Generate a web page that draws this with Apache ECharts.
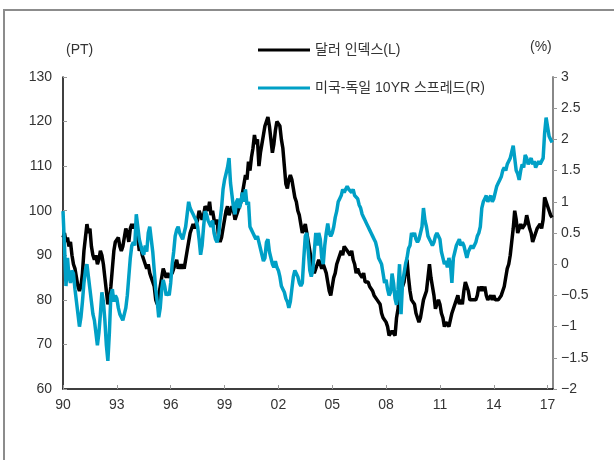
<!DOCTYPE html>
<html>
<head>
<meta charset="utf-8">
<script src="https://cdn.jsdelivr.net/npm/echarts@6/dist/echarts.min.js"></script>
<style>
  html, body { margin: 0; padding: 0; background: #fff; }
  #main { width: 614px; height: 460px; }
</style>
</head>
<body>
<div id="main"></div>
<script>
// monthly values, starting 1990-01
var startYear = 1990;

// 달러 인덱스 (left axis, PT)
var dollarIndex = [
  94, 95, 93, 94, 92, 93, 90, 88, 87, 85, 83, 82,        // 1990
  83, 86, 91, 94, 97, 95, 96, 92, 90, 89, 90, 88,        // 1991
  89, 91, 90, 88, 85, 82, 79, 80, 83, 87, 91, 93,        // 1992
  93, 94, 92, 91, 92, 94, 96, 95, 93, 96, 97, 96,        // 1993
  97, 96, 94, 91, 92, 90, 89, 88, 87, 88, 86, 85,        // 1994
  84, 83, 80, 79, 81, 83, 85, 87, 86, 85, 86, 85,        // 1995
  85, 86, 87, 88, 89, 87, 88, 87, 88, 87, 89, 91,        // 1996
  93, 95, 96, 97, 96, 97, 98, 100, 99, 98, 99, 101,      // 1997
  101, 100, 102, 99, 100, 98, 97, 98, 94, 93, 94, 96,    // 1998
  98, 100, 101, 99, 100, 101, 100, 98, 99, 100, 101, 102,// 1999
  104, 106, 108, 107, 111, 109, 112, 114, 117, 115, 116, 110, // 2000
  113, 115, 117, 119, 120, 121, 119, 116, 113, 115, 118, 120, // 2001
  120, 119, 116, 114, 110, 106, 105, 107, 108, 107, 105, 103, // 2002
  102, 100, 99, 97, 95, 96, 97, 95, 93, 91, 89, 87,      // 2003
  86, 87, 88, 89, 88, 87, 88, 87, 86, 84, 82, 81,        // 2004
  83, 85, 86, 88, 89, 90, 91, 90, 92, 92, 91, 91,        // 2005
  90, 91, 89, 88, 86, 87, 86, 86, 85, 86, 84, 84,        // 2006
  84, 83, 83, 82, 81, 81, 80, 80, 79, 77, 76, 76,        // 2007
  75, 74, 72, 72, 73, 73, 72, 76, 78, 82, 85, 83,        // 2008
  84, 87, 89, 85, 82, 80, 80, 79, 77, 76, 75, 76,        // 2009
  78, 80, 81, 82, 85, 88, 85, 83, 81, 78, 79, 80,        // 2010
  79, 77, 76, 74, 75, 75, 74, 74, 77, 78, 78, 80,        // 2011
  81, 79, 80, 79, 82, 84, 83, 82, 80, 80, 80, 80,        // 2012
  80, 81, 83, 82, 83, 82, 83, 81, 80, 80, 81, 80,        // 2013
  81, 80, 80, 80, 80, 81, 81, 83, 85, 87, 88, 90,        // 2014
  93, 96, 100, 98, 95, 96, 97, 96, 96, 97, 99, 99,       // 2015
  96, 95, 93, 94, 95, 96, 96, 97, 96, 98, 103, 102,      // 2016
  101, 100, 99, 98.5                                     // 2017
];

// 미국-독일 10YR 스프레드 (right axis, %)
var spread = [
  0.85, 0.3, -0.35, 0.1, -0.2, -0.3, -0.1, -0.15, -0.4, -0.6, -0.8, -1.0,      // 1990
  -0.85, -0.6, -0.3, -0.1, 0.0, -0.2, -0.4, -0.6, -0.8, -0.9, -1.1, -1.3,      // 1991
  -1.1, -0.8, -0.45, -0.6, -0.9, -1.3, -1.55, -1.1, -0.5, -0.4, -0.6, -0.5,    // 1992
  -0.55, -0.7, -0.8, -0.85, -0.9, -0.8, -0.7, -0.5, -0.2, 0.1, 0.3, 0.35,      // 1993
  0.3, 0.8, 0.6, 0.4, 0.3, 0.2, 0.15, 0.3, 0.2, 0.5, 0.6, 0.4,                 // 1994
  0.2, -0.1, -0.4, -0.6, -0.85, -0.7, -0.4, -0.25, -0.35, -0.5, -0.45, -0.5,   // 1995
  -0.3, 0.0, 0.2, 0.45, 0.55, 0.6, 0.5, 0.45, 0.4, 0.5, 0.6, 0.8,              // 1996
  1.0, 0.9, 0.85, 0.8, 0.75, 0.7, 0.6, 0.4, 0.15, 0.3, 0.6, 0.85,              // 1997
  0.8, 0.7, 0.65, 0.6, 0.7, 0.5, 0.4, 0.35, 0.45, 0.7, 0.9, 1.2,               // 1998
  1.35, 1.45, 1.55, 1.7, 1.3, 1.1, 0.9, 0.8, 1.0, 1.05, 0.9, 1.0,              // 1999
  1.15, 1.0, 1.2, 0.95, 1.0, 0.6, 0.55, 0.5, 0.45, 0.4, 0.45, 0.35,            // 2000
  0.25, 0.15, 0.05, 0.1, 0.35, 0.4, 0.2, 0.1, 0.0, -0.05, 0.05, -0.05,         // 2001
  -0.1, -0.2, -0.35, -0.4, -0.45, -0.55, -0.6, -0.7, -0.6, -0.4, -0.2, -0.1,   // 2002
  -0.15, -0.2, -0.3, -0.35, -0.3, 0.1, 0.45, 0.5, 0.2, -0.1, -0.2, -0.1,       // 2003
  0.2, 0.5, 0.3, 0.5, 0.4, 0.1, 0.0, 0.3, 0.5, 0.65, 0.5, 0.45,                // 2004
  0.5, 0.6, 0.75, 0.85, 1.0, 1.05, 1.1, 1.2, 1.15, 1.2, 1.25, 1.2,             // 2005
  1.2, 1.15, 1.2, 1.1, 1.1, 1.05, 0.95, 0.9, 0.8, 0.75, 0.7, 0.65,             // 2006
  0.6, 0.55, 0.5, 0.45, 0.4, 0.35, 0.25, 0.1, 0.05, 0.0, -0.15, -0.3,          // 2007
  -0.25, -0.4, -0.5, -0.45, -0.15, -0.3, -0.55, -0.65, -0.4, 0.0, -0.8, -0.3,  // 2008
  -0.15, 0.0, 0.1, 0.25, 0.3, 0.5, 0.45, 0.5, 0.4, 0.35, 0.4, 0.5,             // 2009
  0.6, 0.9, 0.7, 0.6, 0.45, 0.4, 0.35, 0.3, 0.35, 0.45, 0.5, 0.45,             // 2010
  0.4, 0.2, 0.1, 0.0, 0.05, -0.05, 0.1, 0.0, -0.3, 0.1, 0.2, 0.3,              // 2011
  0.35, 0.4, 0.3, 0.35, 0.3, 0.2, 0.1, 0.2, 0.25, 0.3, 0.25, 0.3,              // 2012
  0.35, 0.45, 0.5, 0.6, 0.9, 1.0, 1.05, 1.1, 1.0, 1.05, 1.1, 1.0,              // 2013
  1.05, 1.15, 1.25, 1.3, 1.35, 1.4, 1.5, 1.55, 1.5, 1.6, 1.65, 1.7,            // 2014
  1.8, 1.9, 1.7, 1.5, 1.45, 1.35, 1.5, 1.6, 1.55, 1.75, 1.7, 1.6,              // 2015
  1.65, 1.7, 1.6, 1.65, 1.55, 1.6, 1.65, 1.6, 1.6, 1.7, 2.1, 2.35,             // 2016
  2.2, 2.05, 2.0, 1.95                                                         // 2017
];

var leftTicks = { min: 60, max: 130, step: 10 };
var rightTicks = { min: -2, max: 3, step: 0.5 };
var yearTicks = { min: 1990, max: 2017.3, step: 3 };

var seriesNames = ['달러 인덱스(L)', '미국-독일 10YR 스프레드(R)'];

function toPairs(arr) {
  return arr.map(function (v, i) { return [startYear + i / 12, v]; });
}

var font = "'Liberation Sans', 'Noto Sans CJK KR', sans-serif";
var textColor = '#333';

var chartDom = document.getElementById('main');
var myChart = echarts.init(chartDom);
var option;

option = {
  animation: false,
  backgroundColor: '#fff',
  textStyle: { fontFamily: font },
  grid: { left: 63, right: 61, top: 77, bottom: 71, containLabel: false },
  legend: {
    data: seriesNames,
    orient: 'vertical',
    left: 253,
    top: 37,
    itemWidth: 52,
    itemHeight: 3,
    itemGap: 22,
    icon: 'rect',
    textStyle: { fontSize: 14, color: textColor, fontFamily: font, lineHeight: 16 }
  },
  graphic: [
    {
      type: 'rect',
      shape: { x: 4, y: 10, width: 700, height: 500 },
      style: { fill: 'none', stroke: '#8c8c8c', lineWidth: 2 },
      silent: true
    },
    {
      type: 'text', left: 66, top: 43,
      style: { text: '(PT)', fontSize: 14, fill: textColor, fontFamily: font }
    },
    {
      type: 'text', left: 530, top: 40,
      style: { text: '(%)', fontSize: 14, fill: textColor, fontFamily: font }
    }
  ],
  xAxis: {
    type: 'value',
    min: yearTicks.min,
    max: yearTicks.max,
    interval: yearTicks.step,
    splitLine: { show: false },
    axisLine: { onZero: false, lineStyle: { color: '#000', width: 1.5 } },
    axisTick: { inside: true, length: 4, lineStyle: { color: '#999' } },
    axisLabel: {
      showMaxLabel: false,
      margin: 9,
      fontSize: 14,
      color: textColor,
      formatter: function (v) { return String(Math.round(v)).slice(2); }
    }
  },
  yAxis: [
    {
      type: 'value',
      position: 'left',
      min: leftTicks.min,
      max: leftTicks.max,
      interval: leftTicks.step,
      splitLine: { show: false },
      axisLine: { show: true, onZero: false, lineStyle: { color: '#000', width: 1.5 } },
      axisTick: { show: true, inside: true, length: 4, lineStyle: { color: '#999' } },
      axisLabel: { margin: 11, fontSize: 14, color: textColor }
    },
    {
      type: 'value',
      position: 'right',
      min: rightTicks.min,
      max: rightTicks.max,
      interval: rightTicks.step,
      splitLine: { show: false },
      axisLine: { show: true, onZero: false, lineStyle: { color: '#888', width: 2 } },
      axisTick: { show: true, length: 4, lineStyle: { color: '#999' } },
      axisLabel: {
        margin: 8,
        fontSize: 14,
        color: textColor,
        formatter: function (v) { return String(v).replace('-', '\u2212'); }
      }
    }
  ],
  series: [
    {
      name: seriesNames[0],
      type: 'line',
      yAxisIndex: 0,
      data: toPairs(dollarIndex),
      showSymbol: false,
      color: '#000',
      lineStyle: { width: 3.5, color: '#000' }
    },
    {
      name: seriesNames[1],
      type: 'line',
      yAxisIndex: 1,
      data: toPairs(spread),
      showSymbol: false,
      color: '#00a0c6',
      lineStyle: { width: 3.5, color: '#00a0c6' }
    }
  ]
};

option && myChart.setOption(option);
</script>
</body>
</html>
